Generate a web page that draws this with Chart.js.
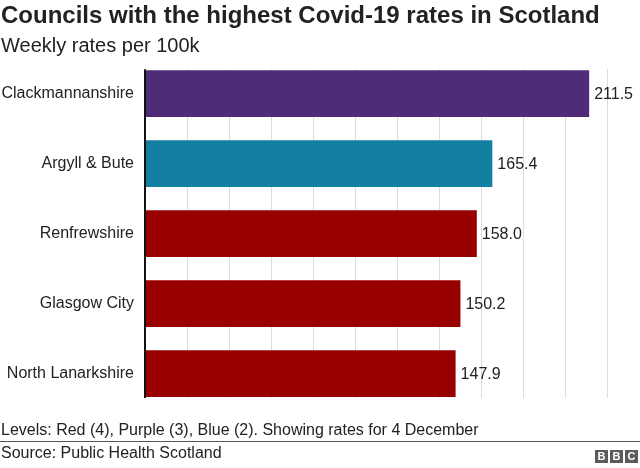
<!DOCTYPE html>
<html>
<head>
<meta charset="utf-8">
<script src="https://cdn.jsdelivr.net/npm/chart.js@4.4.0/dist/chart.umd.min.js"></script>
<style>
    body { margin: 0; background: #fff; }
    #wrap { position: relative; width: 640px; height: 468px; font-family: "Liberation Sans", Arial, sans-serif; color: #222; overflow: hidden; }
    #chart { position: absolute; left: 0; top: 0; }
    .txt { position: absolute; left: 1px; white-space: nowrap; }
    #title { top: 1px; font-size: 24px; font-weight: bold; color: #222; }
    #subtitle { top: 34px; font-size: 20px; }
    #note { top: 421px; font-size: 16px; }
    #rule { position: absolute; left: 0; top: 441px; width: 640px; height: 1px; background: #555; }
    #source { top: 444px; font-size: 16px; }
    #logo { position: absolute; left: 595px; top: 450px; display: flex; gap: 2px; }
    #logo span { width: 13px; height: 13px; background: #5b5b5b; color: #fff; font-weight: bold; font-size: 11px; line-height: 13px; text-align: center; }
</style>
</head>
<body>
<div id="wrap">
    <canvas id="chart" width="640" height="468"></canvas>
    <div class="txt" id="title">Councils with the highest Covid-19 rates in Scotland</div>
    <div class="txt" id="subtitle">Weekly rates per 100k</div>
    <div class="txt" id="note">Levels: Red (4), Purple (3), Blue (2). Showing rates for 4 December</div>
    <div id="rule"></div>
    <div class="txt" id="source">Source: Public Health Scotland</div>
    <div id="logo"><span>B</span><span>B</span><span>C</span></div>
</div>
<script>
// Data
const councils = ['Clackmannanshire', 'Argyll & Bute', 'Renfrewshire', 'Glasgow City', 'North Lanarkshire'];
const rates = [211.5, 165.4, 158.0, 150.2, 147.9];
const barColors = ['#4e2c78', '#1380a1', '#990000', '#990000', '#990000'];
const gridTicks = [20, 40, 60, 80, 100, 120, 140, 160, 180, 200, 220];

// gridlines + axis line only span the bars, not the whole category band
function barSpan(chart) {
    const bars = chart.getDatasetMeta(0).data;
    const last = bars[bars.length - 1];
    return {
        top: bars[0].y - bars[0].height / 2 - 1,
        bottom: last.y + last.height / 2 + 1
    };
}

const gridPlugin = {
    id: 'gridLines',
    beforeDatasetsDraw(chart) {
        const ctx = chart.ctx;
        const x = chart.scales.x;
        const span = barSpan(chart);
        ctx.save();
        ctx.strokeStyle = '#dcdcdc';
        ctx.lineWidth = 1;
        gridTicks.forEach(t => {
            const px = Math.round(x.getPixelForValue(t)) + 0.5;
            ctx.beginPath();
            ctx.moveTo(px, span.top);
            ctx.lineTo(px, span.bottom);
            ctx.stroke();
        });
        ctx.restore();
    },
    afterDatasetsDraw(chart) {
        const ctx = chart.ctx;
        const x = chart.scales.x;
        const span = barSpan(chart);
        const bars = chart.getDatasetMeta(0).data;
        ctx.save();
        // axis line
        ctx.strokeStyle = '#111';
        ctx.lineWidth = 2;
        ctx.beginPath();
        ctx.moveTo(x.getPixelForValue(0), span.top);
        ctx.lineTo(x.getPixelForValue(0), span.bottom);
        ctx.stroke();
        // value labels
        ctx.fillStyle = '#222';
        ctx.font = '16px "Liberation Sans", Arial, sans-serif';
        ctx.textBaseline = 'middle';
        ctx.textAlign = 'left';
        bars.forEach((bar, i) => {
            ctx.fillText(rates[i].toFixed(1), bar.x + 5, bar.y + 1);
        });
        ctx.restore();
    }
};

new Chart(document.getElementById('chart'), {
    type: 'bar',
    data: {
        labels: councils,
        datasets: [{
            data: rates,
            backgroundColor: barColors,
            borderWidth: 0,
            categoryPercentage: 1,
            barPercentage: 0.667
        }]
    },
    options: {
        indexAxis: 'y',
        responsive: false,
        animation: false,
        layout: { padding: { top: 58.6, bottom: 59.4, left: 0, right: 33 } },
        plugins: {
            legend: { display: false },
            tooltip: { enabled: false }
        },
        scales: {
            x: {
                display: false,
                min: 0,
                max: 220
            },
            y: {
                grid: { display: false, drawTicks: false },
                border: { display: false },
                ticks: {
                    color: '#222',
                    padding: 11,
                    font: { family: '"Liberation Sans", Arial, sans-serif', size: 16 }
                },
                afterFit(scale) { scale.width = 145; }
            }
        }
    },
    plugins: [gridPlugin]
});
</script>
</body>
</html>
